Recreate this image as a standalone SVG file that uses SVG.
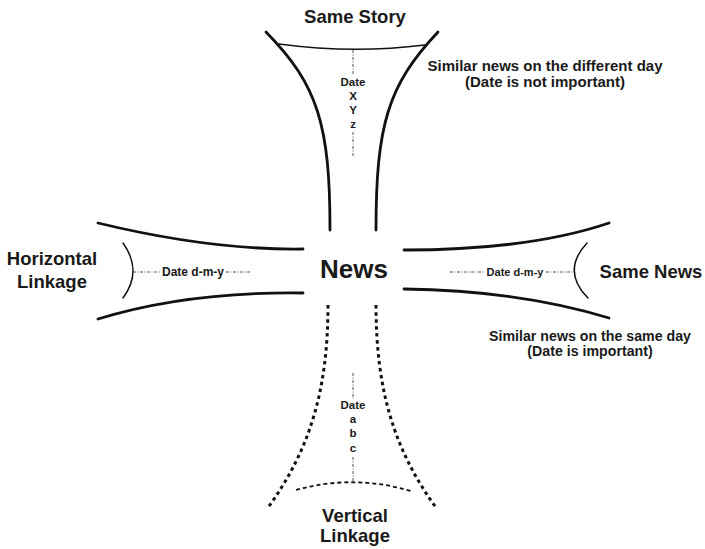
<svg xmlns="http://www.w3.org/2000/svg" width="705" height="549" viewBox="0 0 705 549">
<style>
text{font-family:"Liberation Sans",Arial,sans-serif;font-weight:bold;fill:#1a1a1a;text-anchor:middle}
.t{font-size:18.5px}
.n{font-size:26px}
.s{font-size:14.5px}
.d{font-size:11.5px}
.w{fill:none;stroke:#111;stroke-linecap:round}
.thick{stroke-width:2.8}
.thin{stroke-width:1.5}
.dot{stroke-width:3;stroke-dasharray:3.5 3.5;stroke-linecap:butt}
.dash{stroke-width:1.8;stroke-dasharray:4 3;stroke-linecap:butt}
.dd{fill:none;stroke:#555;stroke-width:1;stroke-dasharray:3 1.5 1 1.5}
</style>
<rect width="705" height="549" fill="#fff"/>
<g id="connectors">
  <!-- top funnel -->
  <path class="w thick" d="M266,32 C318,85 330,125 330,230"/>
  <path class="w thick" d="M438,32 C388,85 376,125 376,230"/>
  <path class="w thin" d="M279,44 Q353,54 425,45"/>
  <line class="dd" x1="353" y1="50" x2="353" y2="75"/>
  <line class="dd" x1="353" y1="132" x2="353" y2="157"/>
  <!-- left funnel -->
  <path class="w thick" d="M98,223 C160,238 230,250 303,249"/>
  <path class="w thick" d="M98,319 C160,300 230,292 303,293"/>
  <path class="w thin" d="M123,243 Q143,271 123,298"/>
  <line class="dd" x1="133" y1="272" x2="160" y2="272"/>
  <line class="dd" x1="226" y1="272" x2="250" y2="272"/>
  <!-- right funnel -->
  <path class="w thick" d="M404,250 C480,250 550,243 609,223"/>
  <path class="w thick" d="M404,289 C480,290 550,300 609,318"/>
  <path class="w thin" d="M587,243 Q561,271 588,298"/>
  <line class="dd" x1="450" y1="272" x2="485" y2="272"/>
  <line class="dd" x1="546" y1="272" x2="574" y2="272"/>
  <!-- bottom funnel -->
  <path class="w dot" d="M328,305 C328,390 310,450 267,509"/>
  <path class="w dot" d="M376,305 C376,390 394,450 437,509"/>
  <path class="w dash" d="M296,490 Q353,474 411,491"/>
  <line class="dd" x1="353" y1="373" x2="353" y2="399"/>
  <line class="dd" x1="353" y1="457" x2="353" y2="482"/>
</g>
<g id="center">
  <text class="n" x="354" y="278">News</text>
</g>
<g id="same-story">
  <text class="t" x="355" y="23">Same Story</text>
  <text class="d" x="353" y="86">Date</text>
  <text class="d" x="353" y="100">X</text>
  <text class="d" x="353" y="114">Y</text>
  <text class="d" x="353" y="128">z</text>
  <text class="s" x="545" y="71" style="font-size:15px">Similar news on the different day</text>
  <text class="s" x="545" y="87" style="font-size:15px">(Date is not important)</text>
</g>
<g id="horizontal-linkage">
  <text class="t" x="52" y="265">Horizontal</text>
  <text class="t" x="52" y="288">Linkage</text>
  <text class="d" x="193" y="276" style="font-size:12px">Date d-m-y</text>
</g>
<g id="same-news">
  <text class="t" x="651" y="278">Same News</text>
  <text class="d" x="515" y="276" style="font-size:11px">Date d-m-y</text>
  <text class="s" x="590" y="341" style="font-size:14.2px">Similar news on the same day</text>
  <text class="s" x="590" y="356" style="font-size:14.2px">(Date is important)</text>
</g>
<g id="vertical-linkage">
  <text class="d" x="353" y="409">Date</text>
  <text class="d" x="353" y="423">a</text>
  <text class="d" x="353" y="437">b</text>
  <text class="d" x="353" y="452">c</text>
  <text class="t" x="355" y="522">Vertical</text>
  <text class="t" x="355" y="542">Linkage</text>
</g>
</svg>
